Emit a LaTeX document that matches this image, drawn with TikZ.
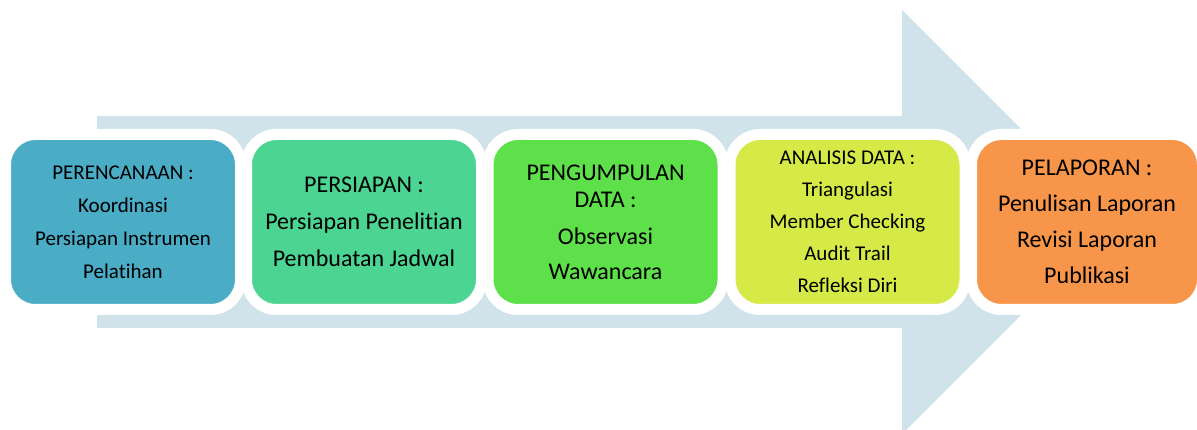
\documentclass[tikz,border=0pt]{standalone}
\usepackage{fontspec}
\setmainfont{Carlito}[Ligatures={NoCommon,NoContextual}]
\definecolor{arrowc}{HTML}{D0E2EA}
\definecolor{cA}{HTML}{4BACC6}
\definecolor{cB}{HTML}{4CD493}
\definecolor{cC}{HTML}{5EE04A}
\definecolor{cD}{HTML}{D5EA47}
\definecolor{cE}{HTML}{F7964A}
\tikzset{
  stagebox/.style={draw=white, line width=11pt, rounded corners=30pt,
    minimum height=175pt, align=center, text=black, inner sep=0pt},
  fsmall/.style={font=\fontsize{21}{33}\selectfont},
  flarge/.style={font=\fontsize{24}{37}\selectfont},
}
\begin{document}
\begin{tikzpicture}[x=1pt,y=-1pt]
\useasboundingbox (0,0) rectangle (1197,430);
\begin{scope}
\clip (0,0) rectangle (1197,430);
\fill[arrowc] (97,116) -- (902,116) -- (902,10) -- (1114,222) -- (902,434) -- (902,328) -- (97,328) -- cycle;
\node[stagebox, fill=cA, fsmall, minimum width=235pt] (s1) at (123,222)
  {PERENCANAAN :\\Koordinasi\\Persiapan Instrumen\\Pelatihan};
\node[stagebox, fill=cB, flarge, minimum width=235pt] (s2) at (364,222)
  {PERSIAPAN :\\Persiapan Penelitian\\Pembuatan Jadwal};
\node[stagebox, fill=cC, font=\fontsize{24}{27}\selectfont, minimum width=235pt] (s3) at (605.5,222)
  {PENGUMPULAN\\DATA :\\[10pt]Observasi\\[8pt]Wawancara};
\node[stagebox, fill=cD, font=\fontsize{21}{32}\selectfont, minimum width=235pt] (s4) at (847.5,222)
  {ANALISIS DATA :\\Triangulasi\\Member Checking\\Audit Trail\\Refleksi Diri};
\node[stagebox, fill=cE, font=\fontsize{24}{36}\selectfont, minimum width=231pt] (s5) at (1087,222)
  {PELAPORAN :\\Penulisan Laporan\\Revisi Laporan\\Publikasi};
\end{scope}
\end{tikzpicture}
\end{document}
